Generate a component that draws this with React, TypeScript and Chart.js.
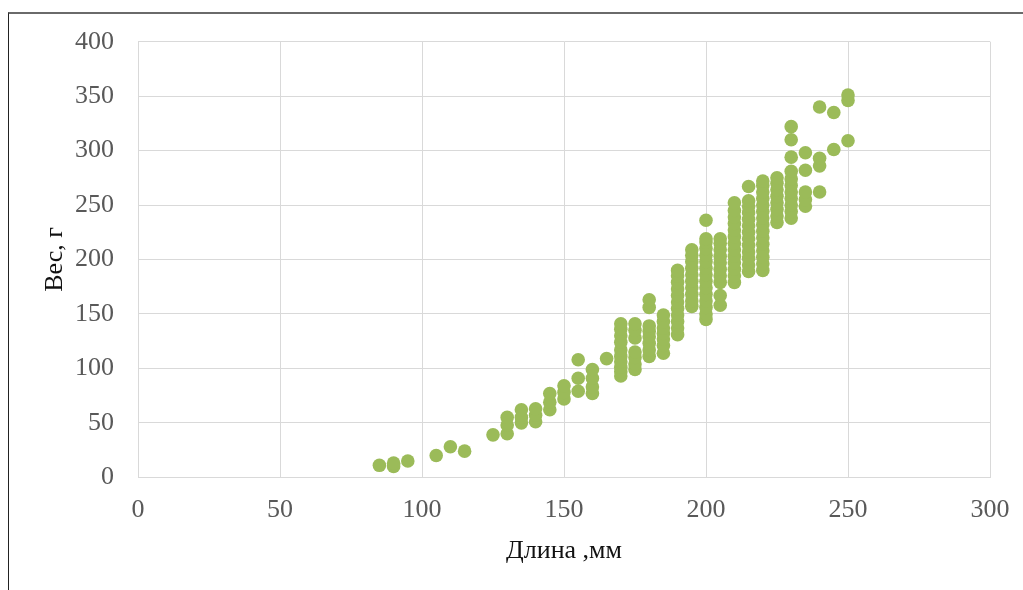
import React, { useEffect, useRef } from "react";
import { Chart, registerables } from "chart.js";

Chart.register(...registerables);

// Fish length (mm) groups and the weights (g) observed at each length
const lengthsMm = [
  85, 90, 95, 105, 110, 115, 125, 130, 135, 140, 145, 150, 155, 160, 165, 170,
  175, 180, 185, 190, 195, 200, 205, 210, 215, 220, 225, 230, 235, 240, 245, 250,
];

const weightsG: number[][] = [
  [11],
  [10, 13],
  [15],
  [20],
  [28],
  [24],
  [39],
  [40, 48, 55],
  [50, 55, 62],
  [51, 57, 63],
  [62, 69, 77],
  [72, 78, 84],
  [79, 91, 108],
  [77, 83, 91, 99],
  [109],
  [93, 97, 101, 106, 111, 117, 124, 130, 136, 141],
  [99, 104, 110, 115, 128, 135, 141],
  [111, 117, 123, 129, 134, 139, 156, 163],
  [114, 121, 127, 132, 137, 143, 149],
  [131, 137, 143, 149, 155, 161, 167, 173, 179, 185, 190],
  [157, 162, 168, 174, 180, 186, 192, 198, 204, 209],
  [145, 150, 156, 162, 168, 174, 180, 186, 192, 198, 204, 210, 216, 219, 236],
  [158, 167, 179, 185, 191, 197, 203, 209, 215, 219],
  [179, 185, 191, 197, 203, 209, 215, 221, 227, 233, 239, 245, 252],
  [189, 195, 201, 207, 213, 219, 225, 231, 237, 243, 249, 254, 267],
  [190, 196, 202, 208, 214, 220, 226, 232, 238, 244, 250, 256, 262, 268, 272],
  [234, 240, 246, 252, 258, 264, 270, 275],
  [238, 244, 250, 256, 262, 268, 274, 281, 294, 310, 322],
  [249, 255, 262, 282, 298],
  [262, 286, 293, 340],
  [301, 335],
  [309, 346, 351],
];

const xAxisTitle = "Длина ,мм";
const yAxisTitle = "Вес, г";
const xMin = 0;
const xMax = 300;
const xStep = 50;
const yMin = 0;
const yMax = 400;
const yStep = 50;

const pointColor = "#9BBB59";
const gridColor = "#d9d9d9";
const tickColor = "#595959";
const fontFamily = "'Liberation Serif', 'Times New Roman', serif";

export default function App() {
  const canvasRef = useRef<HTMLCanvasElement | null>(null);

  useEffect(() => {
    const canvas = canvasRef.current;
    if (!canvas) return;
    const points = lengthsMm.flatMap((len, i) =>
      weightsG[i].map((w) => ({ x: len, y: w }))
    );
    const chart = new Chart(canvas, {
      type: "scatter",
      data: {
        datasets: [
          {
            data: points,
            backgroundColor: pointColor,
            borderColor: pointColor,
            borderWidth: 0,
            pointRadius: 6.8,
            pointHoverRadius: 6.8,
          },
        ],
      },
      options: {
        animation: false,
        responsive: false,
        maintainAspectRatio: false,
        layout: { padding: { top: 41.7, right: 33, bottom: 0, left: 0 } },
        plugins: {
          legend: { display: false },
          tooltip: { enabled: false },
        },
        scales: {
          x: {
            type: "linear",
            min: xMin,
            max: xMax,
            afterFit: (scale: any) => {
              scale.height = 112.7;
              scale.paddingLeft = 0;
              scale.paddingRight = 0;
            },
            ticks: {
              stepSize: xStep,
              color: tickColor,
              padding: 17,
              font: { family: fontFamily, size: 26 },
              maxRotation: 0,
            },
            grid: { color: gridColor, lineWidth: 1, drawTicks: false },
            border: { color: gridColor, width: 1 },
            title: {
              display: true,
              text: xAxisTitle,
              color: "#111",
              font: { family: fontFamily, size: 26 },
              padding: { top: 0, bottom: 23 },
            },
          },
          y: {
            type: "linear",
            min: yMin,
            max: yMax,
            afterFit: (scale: any) => {
              scale.width = 138;
              scale.paddingTop = 0;
              scale.paddingBottom = 0;
            },
            ticks: {
              stepSize: yStep,
              color: tickColor,
              padding: 24,
              font: { family: fontFamily, size: 26 },
            },
            grid: { color: gridColor, lineWidth: 1, drawTicks: false },
            border: { color: gridColor, width: 1 },
            title: {
              display: true,
              text: yAxisTitle,
              color: "#111",
              font: { family: fontFamily, size: 26 },
              padding: { top: 39.4, bottom: 0 },
            },
          },
        },
      },
    });
    return () => chart.destroy();
  }, []);

  return (
    <div
      style={{
        position: "fixed",
        left: 0,
        top: 0,
        width: 1023,
        height: 590,
        background: "#fff",
        overflow: "hidden",
      }}
    >
      <div
        style={{
          position: "absolute",
          left: 8,
          top: 12,
          width: 1200,
          height: 800,
          borderTop: "2px solid #6a6a6a",
          borderLeft: "1px solid #222",
        }}
      />
      <canvas
        ref={canvasRef}
        width={1023}
        height={590}
        style={{ position: "absolute", left: 0, top: 0, width: 1023, height: 590 }}
      />
    </div>
  );
}
